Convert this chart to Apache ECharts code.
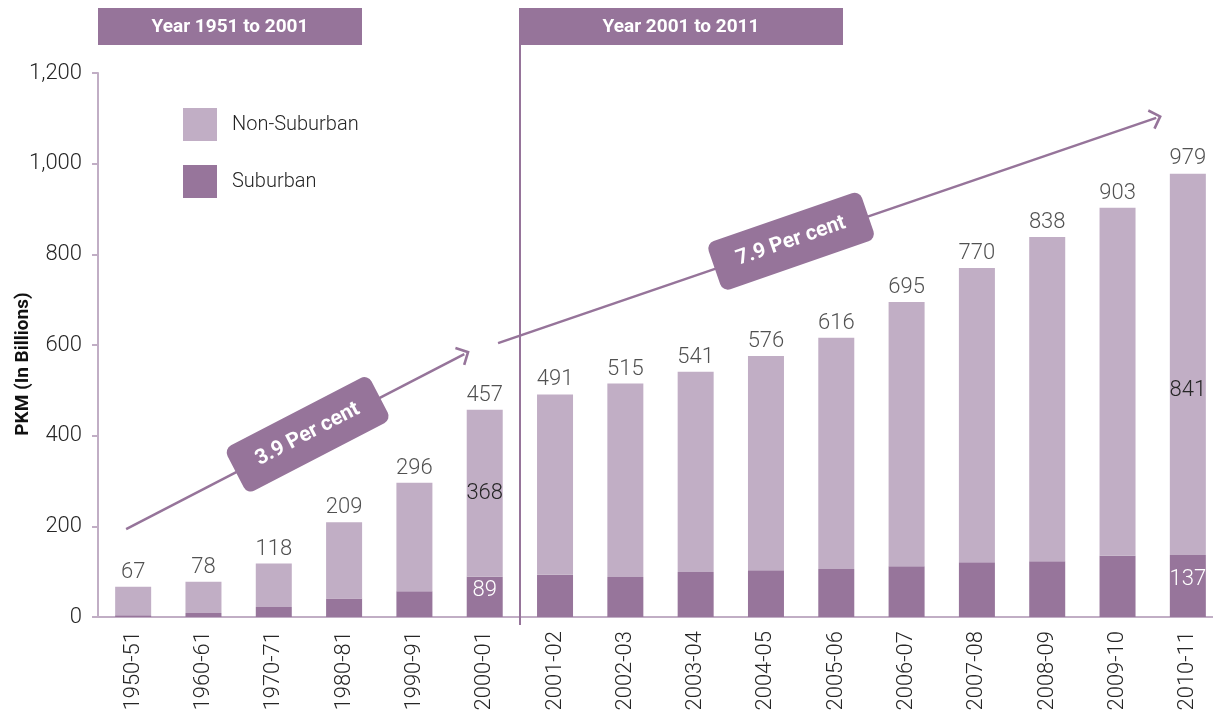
<!DOCTYPE html>
<html>
<head>
<meta charset="utf-8">
<script src="https://cdn.jsdelivr.net/npm/echarts@6/dist/echarts.min.js"></script>
<style>
html, body { margin: 0; padding: 0; background: #fff; }
#main { width: 1213px; height: 711px; }
</style>
</head>
<body>
<div id="main"></div>
<script>
var years = ['1950-51', '1960-61', '1970-71', '1980-81', '1990-91', '2000-01',
    '2001-02', '2002-03', '2003-04', '2004-05', '2005-06', '2006-07',
    '2007-08', '2008-09', '2009-10', '2010-11'];
var totals = [67, 78, 118, 209, 296, 457, 491, 515, 541, 576, 616, 695, 770, 838, 903, 979];
var suburban = [4, 9, 22, 41, 57, 89, 93, 88, 99, 103, 106, 112, 121, 123, 135, 137];
var nonSuburban = [63, 69, 96, 168, 239, 368, 398, 427, 442, 473, 510, 583, 649, 715, 768, 841];

// growth arrows, in (category position, value) units
var arrowLow = [[-0.1, 194], [4.71, 580]];
var arrowHigh = [[5.19, 604], [14.55, 1101]];
// spans whose middle is where the rate badge sits
var badgeLow = [[-0.1, 194], [5.07, 610]];
var badgeHigh = [[5.19, 604], [13.53, 1052]];
var rates = ['3.9 Per cent', '7.9 Per cent'];

var light = '#c1aec5';
var dark = '#97759b';
var txt = '#262626';
var font = 'Roboto';

var chevron = 'path://M0,10 L10,0 L20,10 L18.2,11.8 L10,3.6 L1.8,11.8 Z';

var myChart = echarts.init(document.getElementById('main'));

var subData = suburban.map(function (v, i) {
    if (i == 5 || i == 15) {
        return {value: v, label: {show: true, position: 'inside', color: '#fff', offset: [0, -6]}};
    }
    return v;
});
var nonData = nonSuburban.map(function (v, i) {
    if (i == 5) {
        return {value: v, label: {show: true, position: 'inside', color: txt}};
    }
    if (i == 15) {
        return {value: v, label: {show: true, position: 'inside', color: txt, offset: [0, 26]}};
    }
    return v;
});

function badge(span, text) {
    return [
        {coord: span[0], label: {
            show: true, position: 'middle', distance: -25, formatter: text,
            color: '#fff', fontFamily: font, fontWeight: 'bold', fontSize: 21,
            backgroundColor: '#96749a', borderRadius: 8, padding: [15, 24]
        }},
        {coord: span[1]}
    ];
}

var option = {
    animation: false,
    textStyle: {fontFamily: font},
    grid: {left: 98, top: 73, width: 1125, height: 544, outerBoundsMode: 'none', containLabel: false},
    legend: {
        data: ['Non-Suburban', 'Suburban'],
        orient: 'vertical',
        left: 183,
        top: 108,
        padding: 0,
        itemWidth: 34,
        itemHeight: 33,
        itemGap: 24,
        icon: 'rect',
        textStyle: {fontSize: 20, color: txt, fontWeight: 300, padding: [0, 0, 0, 10]}
    },
    xAxis: [
        {
            type: 'category',
            data: years,
            axisLine: {onZero: false, lineStyle: {color: light, width: 2}},
            axisTick: {length: 8, lineStyle: {color: light, width: 2}},
            axisLabel: {rotate: 90, fontSize: 22, fontWeight: 300, color: txt, margin: 14, interval: 0}
        },
        {
            type: 'value',
            show: false,
            min: -0.5,
            max: 15.5
        }
    ],
    yAxis: {
        type: 'value',
        min: 0,
        max: 1200,
        interval: 200,
        name: 'PKM (In Billions)',
        nameLocation: 'middle',
        nameGap: 65,
        nameMoveOverlap: false,
        nameTextStyle: {fontWeight: 'bold', fontSize: 19, color: '#111', padding: [0, 38, 0, 0]},
        splitLine: {show: false},
        axisLine: {show: true, onZero: false, lineStyle: {color: light, width: 2}},
        axisTick: {show: true, length: 6, lineStyle: {color: light, width: 2}},
        axisLabel: {
            fontSize: 22, fontWeight: 300, color: txt, margin: 16,
            formatter: function (v) { return v.toLocaleString('en-US'); }
        }
    },
    series: [
        {
            name: 'Suburban',
            type: 'bar',
            stack: 'pkm',
            barWidth: 36,
            itemStyle: {color: dark},
            label: {fontSize: 22, fontWeight: 300},
            data: subData
        },
        {
            name: 'Non-Suburban',
            type: 'bar',
            stack: 'pkm',
            barWidth: 36,
            itemStyle: {color: light},
            label: {fontSize: 22, fontWeight: 300},
            data: nonData
        },
        {
            name: 'total',
            type: 'scatter',
            symbolSize: 1,
            itemStyle: {color: 'rgba(0,0,0,0)'},
            label: {show: true, position: 'top', distance: 3, fontSize: 22, fontWeight: 300, color: txt},
            silent: true,
            data: totals
        },
        {
            name: 'arrows',
            type: 'line',
            xAxisIndex: 1,
            data: [],
            markLine: {
                silent: true,
                animation: false,
                symbol: ['none', chevron],
                symbolSize: [21, 12],
                label: {show: false},
                lineStyle: {color: '#96749a', width: 2.5, type: 'solid'},
                data: [
                    [{coord: arrowLow[0]}, {coord: arrowLow[1]}],
                    [{coord: arrowHigh[0]}, {coord: arrowHigh[1]}]
                ]
            }
        },
        {
            name: 'badges',
            type: 'line',
            xAxisIndex: 1,
            data: [],
            markLine: {
                silent: true,
                animation: false,
                symbol: ['none', 'none'],
                lineStyle: {color: 'rgba(0,0,0,0)', width: 0},
                data: [badge(badgeLow, rates[0]), badge(badgeHigh, rates[1])]
            }
        }
    ],
    graphic: [
        {type: 'line', shape: {x1: 520, y1: 8, x2: 520, y2: 625}, style: {stroke: '#96749a', lineWidth: 2}, z: 10},
        {type: 'rect', shape: {x: 98, y: 8, width: 264, height: 37}, style: {fill: '#96749a'}},
        {type: 'text', x: 230, y: 27, style: {text: 'Year 1951 to 2001', fill: '#fff', font: 'bold 19px Roboto', align: 'center', verticalAlign: 'middle'}},
        {type: 'rect', shape: {x: 520, y: 8, width: 323, height: 37}, style: {fill: '#96749a'}},
        {type: 'text', x: 681, y: 27, style: {text: 'Year 2001 to 2011', fill: '#fff', font: 'bold 19px Roboto', align: 'center', verticalAlign: 'middle'}}
    ]
};

myChart.setOption(option);
</script>
</body>
</html>
